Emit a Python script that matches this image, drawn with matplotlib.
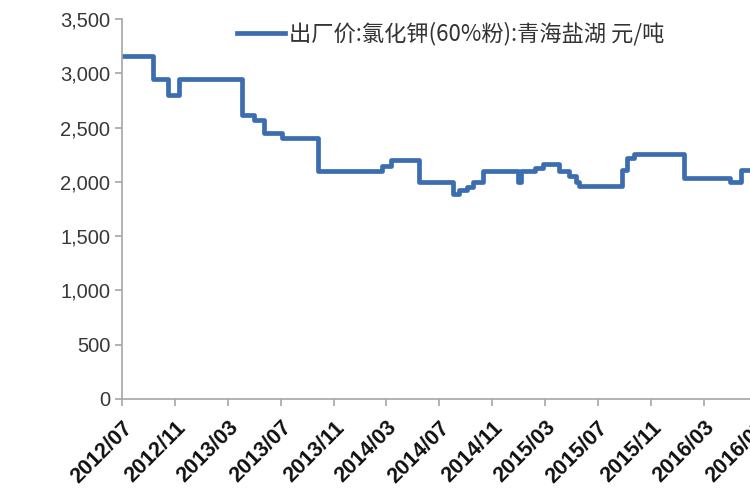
import pandas as pd
import matplotlib
matplotlib.use('Agg')
import matplotlib.pyplot as plt
from matplotlib.ticker import FuncFormatter

plt.rcParams['font.family'] = ['Liberation Sans', 'Noto Sans CJK SC', 'DejaVu Sans']

# Step dates and price levels (yuan/ton)
dates = ['2012-07-01', '2012-09-11', '2012-10-15', '2012-11-10', '2013-04-03',
         '2013-05-02', '2013-05-25', '2013-07-04', '2013-09-25', '2014-02-20',
         '2014-03-13', '2014-05-16', '2014-08-01', '2014-08-17', '2014-09-03',
         '2014-09-17', '2014-10-10', '2014-12-30', '2015-01-05', '2015-02-07',
         '2015-02-25', '2015-04-03', '2015-04-27', '2015-05-13', '2015-05-20',
         '2015-08-27', '2015-09-06', '2015-09-24', '2016-01-15', '2016-04-30',
         '2016-05-27', '2016-08-15']
prices = [3160, 2950, 2800, 2950, 2620,
          2570, 2450, 2400, 2100, 2150,
          2200, 2000, 1890, 1925, 1950,
          2000, 2100, 2000, 2100, 2130,
          2160, 2100, 2050, 2000, 1960,
          2110, 2220, 2260, 2040, 2000,
          2110, 2110]
tick_labels = ['2012/07', '2012/11', '2013/03', '2013/07', '2013/11', '2014/03',
               '2014/07', '2014/11', '2015/03', '2015/07', '2015/11', '2016/03',
               '2016/07']
series_name = '出厂价:氯化钾(60%粉):青海盐湖 元/吨'

x = pd.to_datetime(dates)
ticks = pd.to_datetime([t.replace('/', '-') + '-01' for t in tick_labels])

fig = plt.figure(figsize=(7.5, 5), dpi=100)
ax = fig.add_axes([122 / 750, 101 / 500, 648 / 750, 380 / 500])

ax.step(x, prices, where='post', color='#3C6DB0', linewidth=3.4, label=series_name)

ax.set_ylim(0, 3500)
ax.set_yticks(range(0, 3501, 500))
ax.yaxis.set_major_formatter(FuncFormatter(lambda v, p: f'{int(v):,}'))
ax.set_xlim(pd.Timestamp('2012-07-01'), pd.Timestamp('2016-08-01'))
ax.set_xticks(ticks)
ax.set_xticklabels(tick_labels, rotation=45, ha='right', rotation_mode='anchor',
                   fontweight='bold')

for s in ['top', 'right']:
    ax.spines[s].set_visible(False)
for s in ['left', 'bottom']:
    ax.spines[s].set_color('#A6A6A6')
    ax.spines[s].set_linewidth(1.2)
ax.tick_params(axis='both', color='#A6A6A6', length=5, width=1.2)
ax.tick_params(axis='y', labelcolor='#383838', labelsize=14.5)
ax.tick_params(axis='x', labelcolor='#111111', labelsize=15.5, pad=8)

leg = ax.legend(loc='upper left', bbox_to_anchor=(0.146, 1.045), frameon=False,
                handlelength=2.2, handletextpad=0.15,
                prop={'family': ['Noto Sans CJK SC', 'DejaVu Sans'], 'size': 16})
for t in leg.get_texts():
    t.set_color('#333333')

fig.savefig('out.png', dpi=100)
